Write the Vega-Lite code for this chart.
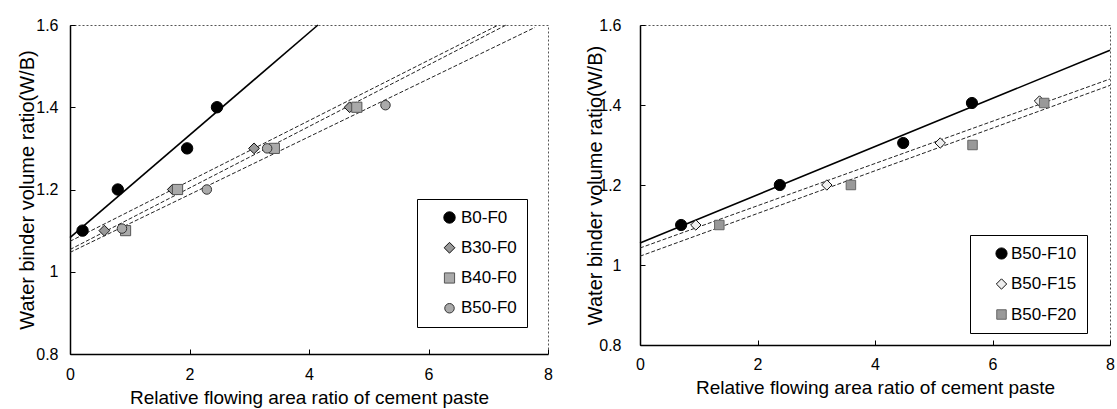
{
  "$schema": "https://vega.github.io/schema/vega-lite/v6.json",
  "background": "white",
  "padding": {"left": 16, "top": 16, "right": 0, "bottom": 0},
  "bounds": "flush",
  "spacing": 92,
  "config": {
    "font": "Liberation Sans",
    "view": {"stroke": "#555", "strokeDash": [2, 2], "strokeWidth": 1},
    "axis": {
      "grid": false,
      "domainColor": "black",
      "domainWidth": 1.5,
      "tickColor": "black",
      "tickSize": -5,
      "labelFontSize": 16,
      "labelColor": "black",
      "labelFont": "Liberation Sans",
      "titleColor": "black",
      "titleFont": "Liberation Sans",
      "titleFontWeight": "normal",
      "labelFlush": false,
      "labelOverlap": false
    },
    "legend": {
      "labelFont": "Liberation Sans",
      "labelFontSize": 17,
      "labelColor": "black",
      "strokeColor": "black",
      "fillColor": "white",
      "padding": 10,
      "symbolStrokeWidth": 1
    }
  },
  "datasets": {
    "left_points": [
      {"series": "B0-F0", "x": 0.21, "y": 1.1},
      {"series": "B0-F0", "x": 0.8, "y": 1.2},
      {"series": "B0-F0", "x": 1.96, "y": 1.3},
      {"series": "B0-F0", "x": 2.46, "y": 1.4},
      {"series": "B30-F0", "x": 0.575, "y": 1.1},
      {"series": "B30-F0", "x": 1.72, "y": 1.2},
      {"series": "B30-F0", "x": 3.08, "y": 1.3},
      {"series": "B30-F0", "x": 4.68, "y": 1.4},
      {"series": "B40-F0", "x": 0.93, "y": 1.1},
      {"series": "B40-F0", "x": 1.8, "y": 1.2},
      {"series": "B40-F0", "x": 3.42, "y": 1.3},
      {"series": "B40-F0", "x": 4.8, "y": 1.4},
      {"series": "B50-F0", "x": 0.87, "y": 1.105},
      {"series": "B50-F0", "x": 2.29, "y": 1.2},
      {"series": "B50-F0", "x": 3.3, "y": 1.3},
      {"series": "B50-F0", "x": 5.28, "y": 1.405}
    ],
    "left_lines": [
      {"series": "B0-F0", "x": 0, "y": 1.083},
      {"series": "B0-F0", "x": 4.15, "y": 1.6},
      {"series": "B30-F0", "x": 0, "y": 1.074},
      {"series": "B30-F0", "x": 7.17, "y": 1.6},
      {"series": "B40-F0", "x": 0, "y": 1.054},
      {"series": "B40-F0", "x": 7.3, "y": 1.6},
      {"series": "B50-F0", "x": 0, "y": 1.047},
      {"series": "B50-F0", "x": 7.78, "y": 1.594}
    ],
    "right_points": [
      {"series": "B50-F10", "x": 0.7, "y": 1.1},
      {"series": "B50-F10", "x": 2.38, "y": 1.2},
      {"series": "B50-F10", "x": 4.48, "y": 1.305},
      {"series": "B50-F10", "x": 5.65, "y": 1.405},
      {"series": "B50-F15", "x": 0.95, "y": 1.1},
      {"series": "B50-F15", "x": 3.18, "y": 1.2},
      {"series": "B50-F15", "x": 5.11, "y": 1.305},
      {"series": "B50-F15", "x": 6.8, "y": 1.41},
      {"series": "B50-F20", "x": 1.35, "y": 1.1},
      {"series": "B50-F20", "x": 3.59, "y": 1.2},
      {"series": "B50-F20", "x": 5.66, "y": 1.3},
      {"series": "B50-F20", "x": 6.88, "y": 1.405}
    ],
    "right_lines": [
      {"series": "B50-F10", "x": 0, "y": 1.055},
      {"series": "B50-F10", "x": 8, "y": 1.537},
      {"series": "B50-F15", "x": 0, "y": 1.0425},
      {"series": "B50-F15", "x": 8, "y": 1.465},
      {"series": "B50-F20", "x": 0, "y": 1.022},
      {"series": "B50-F20", "x": 8, "y": 1.449}
    ]
  },
  "hconcat": [
    {
      "width": 478,
      "height": 329,
      "encoding": {
        "x": {"field": "x", "type": "quantitative", "scale": {"domain": [0, 8], "nice": false, "zero": false},
          "axis": {"title": "Relative flowing area ratio of cement paste", "values": [0, 2, 4, 6, 8], "format": "~g", "labelPadding": 17, "titleFontSize": 19, "titleY": 49, "titleBaseline": "alphabetic"}},
        "y": {"field": "y", "type": "quantitative", "scale": {"domain": [0.8, 1.6], "nice": false, "zero": false},
          "axis": {"title": "Water binder volume ratio(W/B)", "values": [0.8, 1, 1.2, 1.4, 1.6], "format": "~g", "labelPadding": 17, "titleFontSize": 20, "titleX": -43, "titleBaseline": "middle"}}
      },
      "layer": [
        {
          "data": {"name": "left_lines"},
          "transform": [{"filter": "datum.series === 'B0-F0'"}],
          "mark": {"type": "line", "color": "#000000", "strokeWidth": 1.6},
          "encoding": {"detail": {"field": "series", "type": "nominal"}}
        },
        {
          "data": {"name": "left_lines"},
          "transform": [{"filter": "datum.series !== 'B0-F0'"}],
          "mark": {"type": "line", "color": "#222222", "strokeWidth": 1, "strokeDash": [4, 2]},
          "encoding": {"detail": {"field": "series", "type": "nominal"}}
        },
        {
          "data": {"name": "left_points"},
          "mark": {"type": "point", "filled": true, "opacity": 1, "strokeWidth": 1},
          "encoding": {
            "shape": {"field": "series", "type": "nominal", "scale": {"domain": ["B0-F0", "B30-F0", "B40-F0", "B50-F0"], "range": ["circle", "diamond", "square", "circle"]},
              "legend": {"title": null, "orient": "none", "legendX": 347, "legendY": 174, "rowPadding": 12.25, "symbolOffset": 14, "labelOffset": 3}},
            "fill": {"field": "series", "type": "nominal", "scale": {"domain": ["B0-F0", "B30-F0", "B40-F0", "B50-F0"], "range": ["#000000", "#999999", "#aaaaaa", "#aaaaaa"]},
              "legend": {"title": null, "orient": "none", "legendX": 347, "legendY": 174, "rowPadding": 12.25, "symbolOffset": 14, "labelOffset": 3}},
            "stroke": {"field": "series", "type": "nominal", "scale": {"domain": ["B0-F0", "B30-F0", "B40-F0", "B50-F0"], "range": ["#000000", "#111111", "#555555", "#333333"]},
              "legend": {"title": null, "orient": "none", "legendX": 347, "legendY": 174, "rowPadding": 12.25, "symbolOffset": 14, "labelOffset": 3}},
            "size": {"field": "series", "type": "nominal", "scale": {"domain": ["B0-F0", "B30-F0", "B40-F0", "B50-F0"], "range": [130, 90, 120, 110]},
              "legend": {"title": null, "orient": "none", "legendX": 347, "legendY": 174, "rowPadding": 12.25, "symbolOffset": 14, "labelOffset": 3}}
          }
        }
      ]
    },
    {
      "width": 470,
      "height": 320,
      "encoding": {
        "x": {"field": "x", "type": "quantitative", "scale": {"domain": [0, 8], "nice": false, "zero": false},
          "axis": {"title": "Relative flowing area ratio of cement paste", "values": [0, 2, 4, 6, 8], "format": "~g", "labelPadding": 16, "titleFontSize": 19, "titleY": 48, "titleBaseline": "alphabetic"}},
        "y": {"field": "y", "type": "quantitative", "scale": {"domain": [0.8, 1.6], "nice": false, "zero": false},
          "axis": {"title": "Water binder volume ratio(W/B)", "values": [0.8, 1, 1.2, 1.4, 1.6], "format": "~g", "labelPadding": 24, "titleFontSize": 20, "titleX": -45, "titleBaseline": "middle"}}
      },
      "layer": [
        {
          "data": {"name": "right_lines"},
          "transform": [{"filter": "datum.series === 'B50-F10'"}],
          "mark": {"type": "line", "color": "#000000", "strokeWidth": 1.6},
          "encoding": {"detail": {"field": "series", "type": "nominal"}}
        },
        {
          "data": {"name": "right_lines"},
          "transform": [{"filter": "datum.series !== 'B50-F10'"}],
          "mark": {"type": "line", "color": "#222222", "strokeWidth": 1, "strokeDash": [4, 2]},
          "encoding": {"detail": {"field": "series", "type": "nominal"}}
        },
        {
          "data": {"name": "right_points"},
          "mark": {"type": "point", "filled": true, "opacity": 1, "strokeWidth": 1},
          "encoding": {
            "shape": {"field": "series", "type": "nominal", "scale": {"domain": ["B50-F10", "B50-F15", "B50-F20"], "range": ["circle", "diamond", "square"]},
              "legend": {"title": null, "orient": "none", "legendX": 330, "legendY": 210, "rowPadding": 12.5, "symbolOffset": 13, "labelOffset": 1}},
            "fill": {"field": "series", "type": "nominal", "scale": {"domain": ["B50-F10", "B50-F15", "B50-F20"], "range": ["#000000", "#eeeeee", "#999999"]},
              "legend": {"title": null, "orient": "none", "legendX": 330, "legendY": 210, "rowPadding": 12.5, "symbolOffset": 13, "labelOffset": 1}},
            "stroke": {"field": "series", "type": "nominal", "scale": {"domain": ["B50-F10", "B50-F15", "B50-F20"], "range": ["#000000", "#111111", "#666666"]},
              "legend": {"title": null, "orient": "none", "legendX": 330, "legendY": 210, "rowPadding": 12.5, "symbolOffset": 13, "labelOffset": 1}},
            "size": {"field": "series", "type": "nominal", "scale": {"domain": ["B50-F10", "B50-F15", "B50-F20"], "range": [125, 90, 100]},
              "legend": {"title": null, "orient": "none", "legendX": 330, "legendY": 210, "rowPadding": 12.5, "symbolOffset": 13, "labelOffset": 1}}
          }
        }
      ]
    }
  ],
  "resolve": {"scale": {"shape": "independent", "fill": "independent", "stroke": "independent", "size": "independent", "x": "independent", "y": "independent"}}
}
